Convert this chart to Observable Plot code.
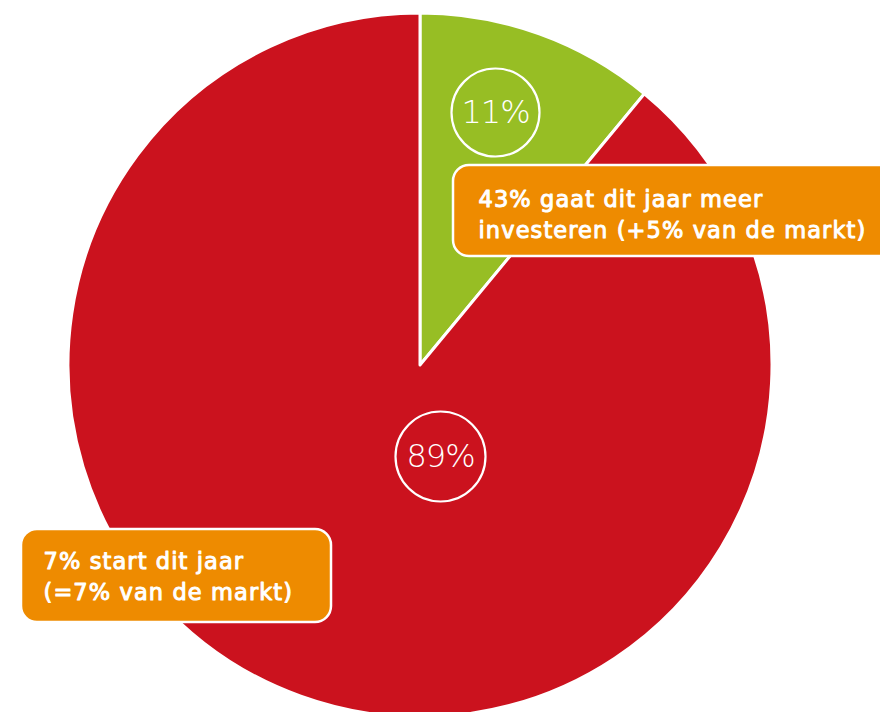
<!DOCTYPE html>
<html>
<head>
<meta charset="utf-8">
<script src="https://cdn.jsdelivr.net/npm/d3@7"></script>
<script src="https://cdn.jsdelivr.net/npm/@observablehq/plot@0.6"></script>
<style>
  html, body { margin: 0; padding: 0; background: #fff; }
  #chart svg { display: block; }
</style>
</head>
<body>
<div id="chart"></div>
<script>
// --- data ---
const categories = ["Investeert", "Investeert niet"];
const shares = [11, 89];
const shareLabels = ["11%", "89%"];
const sliceColors = ["#97BE24", "#CB121E"];
const calloutTexts = [
  "43% gaat dit jaar meer\ninvesteren (+5% van de markt)",
  "7% start dit jaar\n(=7% van de markt)"
];

// --- layout (pixel space) ---
const W = 880, H = 712;
const pie = {cx: 420, cy: 365, r: 352};
const labelPos = [{x: 495, y: 112, r: 44}, {x: 440, y: 456, r: 45}];
const boxes = [
  {x1: 453, x2: 900, y1: 165, y2: 256, tx: 478, ty: 212.5},
  {x1: 21, x2: 331, y1: 529, y2: 622, tx: 43, ty: 574}
];

const data = categories.map((c, i) => ({category: c, value: shares[i], label: shareLabels[i], ...labelPos[i]}));
const callouts = calloutTexts.map((t, i) => ({text: t, ...boxes[i]}));

const color = Plot.scale({color: {type: "ordinal", domain: categories, range: sliceColors}});

function pieMark(index, scales) {
  const cx = scales.x(pie.cx), cy = scales.y(pie.cy);
  const r = scales.x(pie.cx + pie.r) - cx;
  const arcs = d3.pie().sort(null).value(d => d.value)(data);
  const arc = d3.arc().innerRadius(0).outerRadius(r);
  const g = d3.create("svg:g").attr("transform", `translate(${cx},${cy})`);
  g.selectAll("path").data(arcs).join("path")
    .attr("d", arc)
    .attr("fill", d => color.apply(d.data.category))
    .attr("stroke", "white")
    .attr("stroke-width", 3)
    .attr("stroke-linejoin", "round");
  return g.node();
}

const chart = Plot.plot({
  width: W, height: H,
  margin: 0,
  x: {domain: [0, W], range: [0, W], axis: null},
  y: {domain: [0, H], range: [0, H], axis: null},
  r: {type: "identity"},
  style: {background: "white"},
  marks: [
    pieMark,
    Plot.dot(data, {x: "x", y: "y", r: "r", stroke: "white", strokeWidth: 2.2, fill: "none"}),
    Plot.text(data, {x: "x", y: "y", text: "label", fill: "white", fontSize: 32, fontWeight: 200,
      fontFamily: "'DejaVu Sans', sans-serif"}),
    Plot.rect(callouts, {x1: "x1", x2: "x2", y1: "y1", y2: "y2", rx: 16, fill: "#EE8B00", stroke: "white", strokeWidth: 2.5}),
    Plot.text(callouts, {x: "tx", y: "ty", text: "text", textAnchor: "start", fill: "white", fontSize: 22.5,
      lineHeight: 1.38, fontWeight: 400, stroke: "white", strokeWidth: 1,
      fontFamily: "'DejaVu Sans', sans-serif"})
  ]
});
chart.style.fontFamily = "'DejaVu Sans', sans-serif";
const textGroups = chart.querySelectorAll('g[aria-label="text"]');
textGroups[textGroups.length - 1].style.letterSpacing = "1.1px";
textGroups[0].style.letterSpacing = "-1px";
document.getElementById("chart").append(chart);
</script>
</body>
</html>
